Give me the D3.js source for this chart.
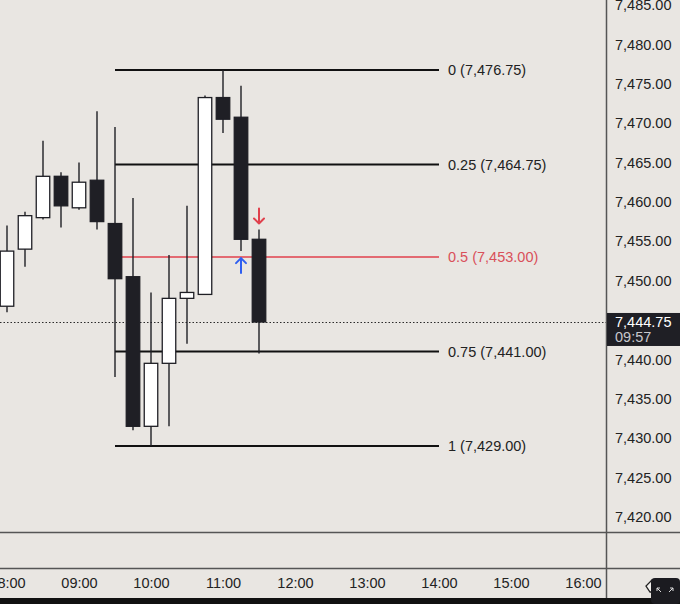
<!DOCTYPE html>
<html>
<head>
<meta charset="utf-8">
<script src="https://cdn.jsdelivr.net/npm/d3@7"></script>
<style>
  html, body { margin: 0; padding: 0; background: #e9e6e2; }
  svg { display: block; font-family: "Liberation Sans", Arial, sans-serif; }
</style>
</head>
<body>
<div id="chart"></div>
<script>
var width = 680;
var height = 604;

// 15 minute candles, time = minutes from midnight
var times = [480, 495, 510, 525, 540, 555, 570, 585, 600, 615, 630, 645, 660, 675, 690];
var opens = [7446.75, 7454.00, 7458.00, 7463.25, 7459.25, 7462.75, 7457.25, 7450.50, 7431.50, 7439.50, 7447.75, 7448.25, 7473.25, 7470.75, 7455.25];
var highs = [7457.00, 7458.75, 7467.75, 7463.75, 7465.00, 7471.50, 7469.50, 7460.50, 7448.50, 7453.25, 7459.50, 7473.50, 7476.75, 7474.75, 7456.50];
var lows = [7446.00, 7451.75, 7457.75, 7456.75, 7459.00, 7456.50, 7437.75, 7431.00, 7429.00, 7431.50, 7442.00, 7448.25, 7468.75, 7453.75, 7440.75];
var closes = [7453.75, 7458.25, 7463.25, 7459.50, 7462.50, 7457.50, 7450.25, 7431.50, 7439.50, 7447.75, 7448.50, 7473.25, 7470.50, 7455.25, 7444.75];

// fib retracement
var fibLevels = [0, 0.25, 0.5, 0.75, 1];
var fibHigh = 7476.75;
var fibLow = 7429.00;
var fibStart = 570;
var fibEnd = 840;

// 7,445.00 sits under the last price label, so it is left out
var priceTicks = [7420, 7425, 7430, 7435, 7440, 7450, 7455, 7460, 7465, 7470, 7475, 7480, 7485];
var timeTicks = [480, 540, 600, 660, 720, 780, 840, 900, 960];

var lastPrice = 7444.75;
var countdown = '09:57';

var plotRight = 606;
var paneBottom = 532;
var axisTop = 568;
var axisBottom = 598;

var bg = '#e9e6e2';
var ink = '#1f1f25';
var red = '#e0404c';
var fs = 14.5;

var x = d3.scaleLinear().domain([480, 960]).range([7, 583]);
var y = d3.scaleLinear().domain([fibLow, fibHigh]).range([446, 70]);

var fmtPrice = d3.format(',.2f');
var fmtTime = function (m) {
    return d3.format('02d')(Math.floor(m / 60)) + ':' + d3.format('02d')(m % 60);
};

var svg = d3.select('#chart')
    .append('svg')
    .attr('width', width)
    .attr('height', height);

svg.append('rect')
    .attr('width', width)
    .attr('height', height)
    .attr('fill', bg);

var plot = svg.append('g');
plot.append('clipPath').attr('id', 'clip')
    .append('rect').attr('width', plotRight).attr('height', paneBottom);
var g = plot.append('g').attr('clip-path', 'url(#clip)');

// last price dotted line
g.append('line')
    .attr('x1', 0).attr('x2', plotRight)
    .attr('y1', Math.round(y(lastPrice)) + 0.5).attr('y2', Math.round(y(lastPrice)) + 0.5)
    .attr('stroke', '#2a2a2a')
    .attr('stroke-width', 1)
    .attr('stroke-dasharray', '1.5,2');

// fib lines (prices rounded to the 0.25 tick)
var fibs = fibLevels.map(function (l) {
    var p = fibHigh - (fibHigh - fibLow) * l;
    return { level: l, price: Math.round(p * 4) / 4 };
});

g.selectAll('.fib')
    .data(fibs)
    .enter()
    .append('line')
    .attr('x1', x(fibStart))
    .attr('x2', x(fibEnd))
    .attr('y1', d => y(d.price))
    .attr('y2', d => y(d.price))
    .attr('stroke', d => d.level === 0.5 ? red : '#111')
    .attr('stroke-width', d => d.level === 0.5 ? 1.6 : 2.2);

g.selectAll('.fibLabel')
    .data(fibs)
    .enter()
    .append('text')
    .attr('x', x(fibEnd) + 9)
    .attr('y', d => y(d.price))
    .attr('dy', '0.36em')
    .attr('font-size', fs)
    .attr('fill', d => d.level === 0.5 ? '#d9505a' : '#222')
    .text(d => d.level + ' (' + fmtPrice(d.price) + ')');

// candles
var candles = times.map(function (t, i) {
    return { t: t, o: opens[i], h: highs[i], l: lows[i], c: closes[i] };
});
var bw = 13.5;

var cg = g.selectAll('.candle')
    .data(candles)
    .enter()
    .append('g');

cg.append('line')
    .attr('x1', d => x(d.t)).attr('x2', d => x(d.t))
    .attr('y1', d => y(d.h)).attr('y2', d => y(d.l))
    .attr('stroke', ink)
    .attr('stroke-width', 1.4);

cg.append('rect')
    .attr('x', d => x(d.t) - bw / 2)
    .attr('width', bw)
    .attr('y', d => y(Math.max(d.o, d.c)))
    .attr('height', d => Math.max(1, Math.abs(y(d.o) - y(d.c))))
    .attr('fill', d => d.c >= d.o ? '#ffffff' : ink)
    .attr('stroke', ink)
    .attr('stroke-width', 1.3);

// arrows
function arrow(cx, tipY, dir, color) {
    var len = 15 * dir;
    var head = 5;
    g.append('path')
        .attr('d', 'M' + cx + ',' + tipY + 'L' + cx + ',' + (tipY + len) +
            'M' + (cx - head) + ',' + (tipY + head * dir) + 'L' + cx + ',' + tipY + 'L' + (cx + head) + ',' + (tipY + head * dir))
        .attr('fill', 'none')
        .attr('stroke', color)
        .attr('stroke-width', 2)
        .attr('stroke-linecap', 'round')
        .attr('stroke-linejoin', 'round');
}
arrow(x(times[14]), y(highs[14]) - 6, -1, '#e0404c');
arrow(x(times[13]), y(lows[13]) + 7, 1, '#2e5ef0');

// separators
svg.append('line')
    .attr('x1', plotRight + 0.5).attr('x2', plotRight + 0.5)
    .attr('y1', 0).attr('y2', axisBottom)
    .attr('stroke', '#555').attr('stroke-width', 1.5);
[paneBottom, axisTop].forEach(function (yy) {
    svg.append('line')
        .attr('x1', 0).attr('x2', width)
        .attr('y1', yy + 0.5).attr('y2', yy + 0.5)
        .attr('stroke', '#555').attr('stroke-width', 1.5);
});

// price axis
var ya = svg.append('g').attr('transform', 'translate(' + (plotRight + 9) + ',0)')
    .call(d3.axisRight(y).tickValues(priceTicks).tickSize(0).tickPadding(0).tickFormat(fmtPrice));
ya.select('.domain').remove();
ya.selectAll('text')
    .attr('font-size', fs)
    .attr('font-family', '"Liberation Sans", Arial, sans-serif')
    .attr('fill', '#222');

// time axis
var xa = svg.append('g').attr('transform', 'translate(0,' + (axisTop + 15) + ')')
    .call(d3.axisBottom(x).tickValues(timeTicks).tickSize(0).tickPadding(0).tickFormat(fmtTime));
xa.select('.domain').remove();
xa.selectAll('text')
    .attr('dy', '0.36em')
    .attr('font-size', fs)
    .attr('font-family', '"Liberation Sans", Arial, sans-serif')
    .attr('fill', '#222');

// last price label
var ly = y(lastPrice);
svg.append('rect')
    .attr('x', plotRight + 1).attr('y', ly - 9)
    .attr('width', width - plotRight).attr('height', 33)
    .attr('fill', ink);
svg.append('text')
    .attr('x', plotRight + 9).attr('y', ly + 5)
    .attr('font-size', fs).attr('fill', '#fff')
    .text(fmtPrice(lastPrice));
svg.append('text')
    .attr('x', plotRight + 9).attr('y', ly + 20)
    .attr('font-size', fs).attr('fill', '#c8c8cc')
    .text(countdown);

// bottom bar + corner button
svg.append('rect')
    .attr('x', 0).attr('y', axisBottom)
    .attr('width', width).attr('height', height - axisBottom)
    .attr('fill', '#111');
svg.append('path')
    .attr('d', 'M652,580 L646,586 L650,592 L660,592 L660,580 Z')
    .attr('fill', '#f4f2ef').attr('stroke', '#222').attr('stroke-width', 1.3);
svg.append('rect')
    .attr('x', 651).attr('y', 578)
    .attr('width', 29).attr('height', 26)
    .attr('rx', 4)
    .attr('fill', '#1b1b20');
svg.append('path')
    .attr('d', 'M657,588 L661,592 M657,588 L660,588 M657,588 L657,591 M673,588 L669,592 M673,588 L670,588 M673,588 L673,591')
    .attr('stroke', '#ddd').attr('stroke-width', 1).attr('fill', 'none');
</script>
</body>
</html>
